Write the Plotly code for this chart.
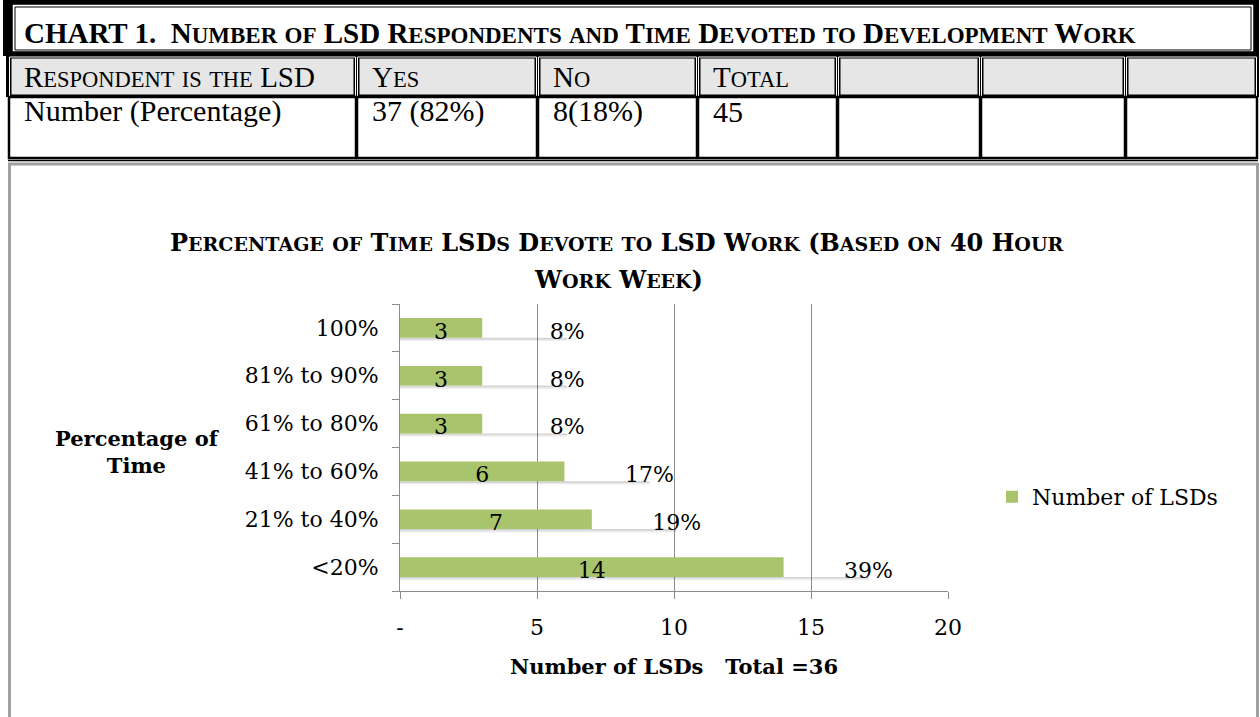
import re
import plotly.graph_objects as go

# ---------------- data ----------------
categories = ["<20%", "21% to 40%", "41% to 60%", "61% to 80%", "81% to 90%", "100%"]
num_lsds = [14, 7, 6, 3, 3, 3]
pct_labels = ["39%", "19%", "17%", "8%", "8%", "8%"]
x_tickvals = [0, 5, 10, 15, 20]
x_ticktext = ["-", "5", "10", "15", "20"]

table_header = ["Respondent is the LSD", "Yes", "No", "Total", "", "", ""]
table_row = ["Number (Percentage)", "37 (82%)", "8(18%)", "45", "", "", ""]

table_title = "CHART 1.  Number of LSD Respondents and Time Devoted to Development Work"
chart_title_1 = "Percentage of Time LSDs Devote to LSD Work (Based on 40 Hour"
chart_title_2 = "Work Week)"
y_title = "Percentage of<br>Time"
x_title = "Number of LSDs   Total =36"
series_name = "Number of LSDs"

# ---------------- style ----------------
W, H = 1260, 717
GREEN = "#A8C46C"
SERIF = "DejaVu Serif"
DOC_SERIF = "Liberation Serif"
PAD = 3.1          # length of the label/shadow extension beyond each bar
BAR_W = 0.41
LBL_SHIFT = 0.07   # data labels sit slightly below the bar centre


def X(px):
    return px / W


def Y(py):
    return 1 - py / H


def small_caps(text, big, small):
    out = []
    for run in re.findall(r"[a-z]+|[^a-z]+", text):
        if run[0].islower():
            out.append(f"<span style='font-size:{small}px'>{run.upper()}</span>")
        else:
            out.append(run)
    return f"<span style='font-size:{big}px'>" + "".join(out) + "</span>"


fig = go.Figure()

ext = [v + PAD for v in num_lsds]

# soft shadow strip under bar + label area
fig.add_trace(go.Bar(
    y=categories, x=ext, orientation="h",
    marker=dict(color="rgba(0,0,0,0.17)", line=dict(width=0)),
    width=0.035, offset=-BAR_W / 2 - 0.035, showlegend=False, hoverinfo="skip"))
fig.add_trace(go.Bar(
    y=categories, x=ext, orientation="h",
    marker=dict(color="rgba(0,0,0,0.07)", line=dict(width=0)),
    width=0.035, offset=-BAR_W / 2 - 0.07, showlegend=False, hoverinfo="skip"))

fig.add_trace(go.Bar(
    y=categories, x=num_lsds, orientation="h", name=series_name,
    marker=dict(color=GREEN, line=dict(width=0)),
    width=BAR_W, offset=-BAR_W / 2,
    showlegend=True))

# value labels centred in the green bars
fig.add_trace(go.Bar(
    y=categories, x=num_lsds, orientation="h",
    marker=dict(color="rgba(0,0,0,0)", line=dict(width=0)),
    width=BAR_W, offset=-BAR_W / 2 - LBL_SHIFT,
    text=[str(v) for v in num_lsds], textposition="inside",
    insidetextanchor="middle", textangle=0, constraintext="none",
    textfont=dict(family=SERIF, size=22, color="black"),
    showlegend=False, hoverinfo="skip"))

# percentage labels, centred on the end of the extension
fig.add_trace(go.Bar(
    y=categories, x=[2] * len(num_lsds), base=[v - 1 for v in ext], orientation="h",
    marker=dict(color="rgba(0,0,0,0)", line=dict(width=0)),
    width=BAR_W, offset=-BAR_W / 2 - LBL_SHIFT,
    text=pct_labels, textposition="inside", insidetextanchor="middle",
    textangle=0, constraintext="none",
    textfont=dict(family=SERIF, size=22, color="black"),
    showlegend=False, hoverinfo="skip"))

shapes = []
annotations = []

# ---------------- table (document part) ----------------
shapes.append(dict(type="rect", xref="paper", yref="paper", x0=X(3), x1=X(1259), y0=Y(56), y1=Y(0),
                   fillcolor="black", line=dict(width=0), layer="below"))
shapes.append(dict(type="rect", xref="paper", yref="paper", x0=X(12), x1=X(1254), y0=Y(52), y1=Y(4),
                   fillcolor="white", line=dict(color="black", width=1.5), layer="below"))
shapes.append(dict(type="rect", xref="paper", yref="paper", x0=X(15), x1=X(1251), y0=Y(50), y1=Y(7),
                   fillcolor="white", line=dict(color="black", width=1), layer="below"))
annotations.append(dict(xref="paper", yref="paper", x=X(22), y=Y(33), xanchor="left", yanchor="middle",
                        text="<b>" + small_caps(table_title, 29, 23) + "</b>", showarrow=False,
                        font=dict(family=DOC_SERIF, color="black")))

col_edges = [8, 356, 537, 697, 837, 980, 1125, 1257]
shapes.append(dict(type="rect", xref="paper", yref="paper", x0=X(6), x1=X(1259), y0=Y(97), y1=Y(56),
                   fillcolor="black", line=dict(width=0), layer="below"))
for i in range(len(col_edges) - 1):
    shapes.append(dict(type="rect", xref="paper", yref="paper",
                       x0=X(col_edges[i] + 3), x1=X(col_edges[i + 1] - 2), y0=Y(95), y1=Y(58),
                       fillcolor="#E6E6E6", line=dict(color="black", width=1), layer="below"))
    shapes.append(dict(type="rect", xref="paper", yref="paper",
                       x0=X(col_edges[i] + 1.5), x1=X(col_edges[i + 1] - 0.5), y0=Y(96.5), y1=Y(57),
                       fillcolor="rgba(0,0,0,0)", line=dict(color="white", width=1), layer="below"))
    annotations.append(dict(xref="paper", yref="paper", x=X(col_edges[i] + 14), y=Y(77),
                            xanchor="left", yanchor="middle", showarrow=False,
                            text=small_caps(table_header[i], 29, 22.5),
                            font=dict(family=DOC_SERIF, color="black")))
for i in range(len(col_edges) - 1):
    shapes.append(dict(type="rect", xref="paper", yref="paper",
                       x0=X(col_edges[i] + 1), x1=X(col_edges[i + 1]), y0=Y(158), y1=Y(97),
                       fillcolor="white", line=dict(color="black", width=2.5), layer="below"))
    annotations.append(dict(xref="paper", yref="paper", x=X(col_edges[i] + 14), y=Y(111),
                            xanchor="left", yanchor="middle", showarrow=False,
                            text=table_row[i], font=dict(family=DOC_SERIF, size=30, color="black")))
shapes.append(dict(type="line", xref="paper", yref="paper", x0=X(8), x1=X(1258), y0=Y(160.5), y1=Y(160.5),
                   line=dict(color="black", width=1.5), layer="below"))
# chart frame
shapes.append(dict(type="rect", xref="paper", yref="paper", x0=X(9.5), x1=X(1257.5), y0=Y(730), y1=Y(164),
                   fillcolor="rgba(0,0,0,0)", line=dict(color="#A0A0A0", width=3), layer="below"))

# ---------------- chart titles ----------------
annotations.append(dict(xref="paper", yref="paper", x=X(616), y=Y(243), xanchor="center", yanchor="middle",
                        showarrow=False, text="<b>" + small_caps(chart_title_1, 24, 19) + "</b>",
                        font=dict(family=SERIF, color="black")))
annotations.append(dict(xref="paper", yref="paper", x=X(618), y=Y(279), xanchor="center", yanchor="middle",
                        showarrow=False, text="<b>" + small_caps(chart_title_2, 24, 19) + "</b>",
                        font=dict(family=SERIF, color="black")))
annotations.append(dict(xref="paper", yref="paper", x=X(137), y=Y(452), xanchor="center", yanchor="middle",
                        showarrow=False, text="<b>" + y_title + "</b>", align="center",
                        font=dict(family=SERIF, size=21, color="black")))
annotations.append(dict(xref="paper", yref="paper", x=X(674), y=Y(666), xanchor="center", yanchor="middle",
                        showarrow=False, text="<b>" + x_title + "</b>",
                        font=dict(family=SERIF, size=21, color="black")))

fig.update_layout(
    width=W, height=H,
    margin=dict(l=0, r=0, t=0, b=0),
    paper_bgcolor="white", plot_bgcolor="white",
    barmode="overlay",
    shapes=shapes, annotations=annotations,
    showlegend=True,
    legend=dict(x=X(992), y=Y(497), xanchor="left", yanchor="middle",
                font=dict(family=SERIF, size=22, color="black"),
                bgcolor="rgba(0,0,0,0)", itemwidth=30),
    xaxis=dict(domain=[X(400), X(948)], range=[0, 20],
               tickvals=x_tickvals, ticktext=x_ticktext,
               showgrid=True, gridcolor="#8C8C8C", gridwidth=1,
               showline=True, linecolor="#8C8C8C", linewidth=1,
               ticks="outside", ticklen=7, tickcolor="#8C8C8C",
               ticklabelstandoff=10, zeroline=False, automargin=False,
               tickfont=dict(family=SERIF, size=22, color="black"), fixedrange=True),
    yaxis=dict(domain=[Y(591), Y(304)], categoryorder="array", categoryarray=categories,
               showgrid=False, showline=True, linecolor="#8C8C8C", linewidth=1,
               ticks="outside", ticklen=7, tickcolor="#8C8C8C", tickson="boundaries",
               ticklabelstandoff=16, automargin=False,
               tickfont=dict(family=SERIF, size=22, color="black"), fixedrange=True),
)

fig.write_html("out.html")
